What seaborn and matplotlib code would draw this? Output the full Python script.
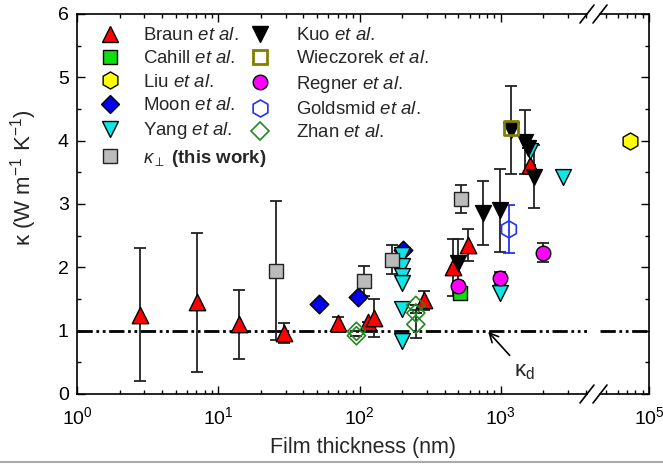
import matplotlib
matplotlib.use('Agg')
import matplotlib.pyplot as plt
import seaborn as sns
from matplotlib.lines import Line2D
from matplotlib.ticker import LogLocator, MultipleLocator, NullFormatter

# ---- data: film thickness (nm), kappa (W/m/K), error ----
braun_x = [2.8, 7.1, 14.1, 29.4, 70, 114, 126, 284, 457, 584, 1600]
braun_y = [1.25, 1.45, 1.1, 0.96, 1.12, 1.14, 1.2, 1.48, 2.0, 2.35, 3.62]
braun_err = [1.05, 1.1, 0.55, 0.16, 0.1, 0, 0.3, 0.15, 0.45, 0.25, 0]

cahill_x = [512]
cahill_y = [1.6]

liu_x = [73000]
liu_y = [4.0]

moon_x = [52, 97, 202]
moon_y = [1.42, 1.53, 2.27]

yang_x = [200, 200, 200, 200, 200, 200, 984, 1600, 2750]
yang_y = [2.2, 2.02, 1.87, 1.76, 1.34, 0.84, 1.6, 3.83, 3.43]

this_x = [25.8, 108, 169, 520]
this_y = [1.95, 1.78, 2.12, 3.08]
this_err = [1.1, 0.24, 0.23, 0.22]

kuo_x = [495, 745, 984, 1180, 1480, 1560, 1715]
kuo_y = [2.07, 2.86, 2.9, 4.17, 3.98, 3.88, 3.43]
kuo_err = [0.38, 0.5, 0.65, 0.7, 0.5, 0, 0.5]

wiec_x = [1180]
wiec_y = [4.2]

regner_x = [495, 984, 1986]
regner_y = [1.7, 1.83, 2.23]
regner_err = [0.08, 0.1, 0.15]

gold_x = [1140]
gold_y = [2.6]
gold_err = [0.38]

zhan_x = [95, 95, 250, 250, 250]
zhan_y = [0.99, 0.92, 1.4, 1.28, 1.1]
zhan_err = [0, 0, 0, 0, 0.22]

kappa_d = 1.0

# label, x, y, err, marker, size, face, edge, edge width, error colour
studies = [
    ('Braun $\\it{et\\ al.}$', braun_x, braun_y, braun_err, '^', 140, '#ff0000', 'black', 1.0, '#222222'),
    ('Cahill $\\it{et\\ al.}$', cahill_x, cahill_y, None, 's', 95, '#11dd11', 'black', 1.0, '#222222'),
    ('Liu $\\it{et\\ al.}$', liu_x, liu_y, None, 'h', 150, '#ffff00', 'black', 1.0, '#222222'),
    ('Moon $\\it{et\\ al.}$', moon_x, moon_y, None, 'D', 90, '#0000ee', 'black', 1.0, '#222222'),
    ('Yang $\\it{et\\ al.}$', yang_x, yang_y, None, 'v', 130, '#11e5e5', 'black', 1.0, '#222222'),
    ('$\\kappa_{\\perp}$ $\\bf{(this\\ work)}$', this_x, this_y, this_err, 's', 110, '#bbbbbb', '#222222', 1.0, '#222222'),
    ('Kuo $\\it{et\\ al.}$', kuo_x, kuo_y, kuo_err, 'v', 130, 'black', 'black', 1.0, '#222222'),
    ('Wieczorek $\\it{et\\ al.}$', wiec_x, wiec_y, None, 's', 110, 'none', '#808000', 2.0, '#222222'),
    ('Regner $\\it{et\\ al.}$', regner_x, regner_y, regner_err, 'o', 110, '#ff00ff', 'black', 1.0, '#222222'),
    ('Goldsmid $\\it{et\\ al.}$', gold_x, gold_y, gold_err, 'h', 150, 'none', '#2233ee', 1.2, '#2233ee'),
    ('Zhan $\\it{et\\ al.}$', zhan_x, zhan_y, zhan_err, 'D', 85, 'none', '#228822', 1.2, '#222222'),
]

sns.set_theme(style='ticks')
plt.rcParams['font.family'] = ['Liberation Sans', 'DejaVu Sans']
plt.rcParams['mathtext.fontset'] = 'custom'
plt.rcParams['mathtext.rm'] = 'Liberation Sans'
plt.rcParams['mathtext.it'] = 'Liberation Sans:italic'
plt.rcParams['mathtext.bf'] = 'Liberation Sans:bold'

W, H = 663, 468
fig = plt.figure(figsize=(W / 100, H / 100), dpi=100)
fig.patch.set_facecolor('white')


def rect(x0, x1, y0, y1):
    return [x0 / W, 1 - y1 / H, (x1 - x0) / W, (y1 - y0) / H]


ax1 = fig.add_axes(rect(77, 587, 14, 394))
ax2 = fig.add_axes(rect(600, 649, 14, 394), sharey=ax1)

for ax in (ax1, ax2):
    ax.set_xscale('log')
    ax.set_facecolor('white')

ax1.set_xlim(1, 10 ** ((587 - 77) / 141.3))
ax2.set_xlim(10 ** (5 - (649 - 600) / 141.3), 1e5)
ax1.set_ylim(0, 6)

for ax in (ax1, ax2):
    for lab, xs, ys, err, mk, s, fc, ec, ew, errc in studies:
        if err is not None:
            ax.errorbar(xs, ys, yerr=err, fmt='none', ecolor=errc, elinewidth=1.3,
                        capsize=4.5, capthick=1.3, zorder=2)
        if fc == 'none':
            sns.scatterplot(x=xs, y=ys, ax=ax, marker=mk, s=s, color=ec,
                            facecolor='none', edgecolor=ec, linewidth=ew, zorder=3)
        else:
            sns.scatterplot(x=xs, y=ys, ax=ax, marker=mk, s=s, color=fc,
                            edgecolor=ec, linewidth=ew, zorder=3)
    ax.axhline(kappa_d, color='black', lw=2.0, dashes=(5.5, 1.3, 1, 1.3, 1, 1.3), zorder=1)

# axes styling
for ax in (ax1, ax2):
    for sp in ax.spines.values():
        sp.set_linewidth(1.2)
        sp.set_color('black')
    ax.tick_params(which='both', direction='in', top=True, bottom=True,
                   labelsize=14, width=1.0, colors='black')
    ax.tick_params(which='major', length=6)
    ax.tick_params(which='minor', length=3)
    ax.xaxis.set_major_locator(LogLocator(base=10, numticks=10))
    ax.xaxis.set_minor_locator(LogLocator(base=10, subs=range(2, 10), numticks=20))
    ax.xaxis.set_minor_formatter(NullFormatter())

ax1.spines['right'].set_visible(False)
ax2.spines['left'].set_visible(False)
ax1.tick_params(which='both', left=True, right=False)
ax2.tick_params(which='both', left=False, right=True, labelleft=False)
ax1.yaxis.set_major_locator(MultipleLocator(1))
ax1.yaxis.set_minor_locator(MultipleLocator(0.5))
ax1.tick_params(axis='y', which='major', pad=6)
ax1.tick_params(axis='x', which='major', pad=9)
ax2.tick_params(axis='x', which='major', pad=9)

ax1.set_ylabel('κ (W m$^{-1}$ K$^{-1}$)', fontsize=16)
ax1.yaxis.set_label_coords(-38 / 510, 0.57)
ax1.set_xlabel('')
ax2.set_xlabel('')
ax2.set_ylabel('')
fig.text((77 + 649) / 2 / W, 1 - 447 / H, 'Film thickness (nm)', ha='center',
         va='center', fontsize=15.5)

# kappa_d annotation
ax1.annotate('κ$_{\\rm d}$', xy=(800, kappa_d), xytext=(1230, 0.36),
             ha='left', va='center', fontsize=16,
             arrowprops=dict(arrowstyle='->', lw=1.2, color='black',
                             shrinkA=2, shrinkB=1))

# axis break marks
for yb in (14, 394):
    for xc in (587, 600):
        fig.add_artist(Line2D([(xc - 7) / W, (xc + 7) / W],
                              [1 - (yb + 9) / H, 1 - (yb - 9) / H],
                              color='black', lw=1.2))

# legend, two columns placed separately
handles = []
labels = []
for lab, xs, ys, err, mk, s, fc, ec, ew, errc in studies:
    handles.append(Line2D([], [], ls='none', marker=mk, markersize=s ** 0.5,
                          markerfacecolor=fc, markeredgecolor=ec, markeredgewidth=ew))
    labels.append(lab)

leg_kw = dict(loc='upper left', frameon=False, fontsize=13.4, handlelength=1.2,
              labelspacing=0.34, borderaxespad=0, borderpad=0)
leg1 = fig.legend(handles[:6], labels[:6], bbox_to_anchor=(99 / W, 1 - 27 / H),
                  handletextpad=1.15, **leg_kw)
leg2 = fig.legend(handles[6:], labels[6:], bbox_to_anchor=(249 / W, 1 - 27 / H),
                  handletextpad=1.3, **leg_kw)

fig.add_artist(Line2D([0, 1], [1 - 462 / H] * 2, color='#aaaaaa', lw=1.5))

fig.savefig('out.png', dpi=100)
